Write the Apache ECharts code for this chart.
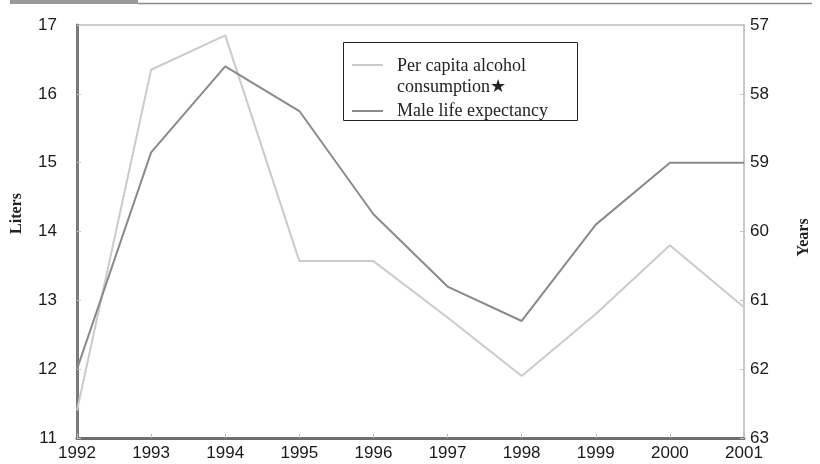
<!DOCTYPE html>
<html>
<head>
<meta charset="utf-8">
<title>Alcohol consumption and male life expectancy</title>
<script src="https://cdn.jsdelivr.net/npm/echarts@6/dist/echarts.min.js"></script>
<style>
  html, body { margin: 0; padding: 0; background: #fff; }
  #chart { width: 820px; height: 464px; }
</style>
</head>
<body>
<div id="chart"></div>
<script>
// data
var years = ['1992', '1993', '1994', '1995', '1996', '1997', '1998', '1999', '2000', '2001'];
var alcohol = [11.4, 16.35, 16.85, 13.57, 13.57, 12.75, 11.9, 12.8, 13.8, 12.9]; // liters, left axis
var lifeExp = [62.0, 58.85, 57.6, 58.25, 59.75, 60.8, 61.3, 59.9, 59.0, 59.0]; // years, right axis (inverted)

var alcName = 'Per capita alcohol consumption';
var lifeName = 'Male life expectancy';

var serif = "'Liberation Serif', 'DejaVu Serif', serif";
var sans = "'Liberation Sans', Arial, sans-serif";

// legend icons: a short line inside a wider invisible box, so it sits where the picture has it
var iconTop = 'path://M0,0H31V2H0Z M40,26L40,26';
var iconMid = 'path://M0,12H31V14H0Z M0,0L0,0 M40,26L40,26';

var chart = echarts.init(document.getElementById('chart'));

var option = {
  animation: false,
  grid: {
    left: 77,
    right: 75,
    top: 25,
    bottom: 26,
    show: true,
    borderColor: '#cdcdcd',
    borderWidth: 2
  },
  legend: {
    left: 343,
    top: 56,
    orient: 'vertical',
    padding: [0, 0, 0, 9],
    itemWidth: 40,
    itemHeight: 26,
    itemGap: 0,
    selectedMode: false,
    data: [
      { name: alcName, icon: iconTop },
      { name: lifeName, icon: iconMid }
    ],
    formatter: function (name) {
      return name === alcName ? 'Per capita alcohol\nconsumption\u2605' : name;
    },
    textStyle: {
      fontFamily: serif,
      fontSize: 18,
      lineHeight: 21,
      color: '#222'
    }
  },
  graphic: [
    // header strip
    { type: 'rect', shape: { x: 10, y: 0, width: 128, height: 4 }, style: { fill: '#9a9a9a' } },
    { type: 'line', shape: { x1: 138, y1: 3.5, x2: 812, y2: 3.5 }, style: { stroke: '#8c8c8c', lineWidth: 1.5 } },
    // legend frame
    { type: 'rect', shape: { x: 343.5, y: 42.5, width: 234, height: 78 }, style: { fill: 'none', stroke: '#222', lineWidth: 1 }, z: 10 }
  ],
  xAxis: {
    type: 'category',
    data: years,
    boundaryGap: false,
    axisLine: { lineStyle: { color: '#6e6e6e', width: 3 } },
    axisTick: { inside: true, length: 4, lineStyle: { color: '#bbb' } },
    axisLabel: { color: '#1a1a1a', fontFamily: sans, fontSize: 17, margin: 7 },
    splitLine: { show: false }
  },
  yAxis: [
    {
      type: 'value',
      name: 'Liters',
      nameLocation: 'middle',
      nameGap: 52,
      // left padding pushes the rotated name up, as in the picture
      nameTextStyle: { fontFamily: serif, fontWeight: 'bold', fontSize: 16, color: '#222', padding: [0, 0, 0, 36] },
      min: 11,
      max: 17,
      interval: 1,
      axisLine: { show: true, lineStyle: { color: '#7a7a7a', width: 3 } },
      axisTick: { show: true, inside: true, length: 4, lineStyle: { color: '#c4c4c4' } },
      axisLabel: { color: '#1a1a1a', fontFamily: sans, fontSize: 17, margin: 20 },
      splitLine: { show: false }
    },
    {
      type: 'value',
      name: 'Years',
      nameLocation: 'middle',
      nameGap: 52,
      nameTextStyle: { fontFamily: serif, fontWeight: 'bold', fontSize: 16, color: '#222', padding: [0, 12, 0, 0] },
      inverse: true,
      min: 57,
      max: 63,
      interval: 1,
      axisLine: { show: true, lineStyle: { color: '#c8c8c8', width: 2 } },
      axisTick: { show: true, inside: true, length: 4, lineStyle: { color: '#c4c4c4' } },
      axisLabel: { color: '#1a1a1a', fontFamily: sans, fontSize: 17, margin: 6 },
      splitLine: { show: false }
    }
  ],
  series: [
    {
      name: alcName,
      type: 'line',
      yAxisIndex: 0,
      data: alcohol,
      showSymbol: false,
      color: '#cbcbcb',
      lineStyle: { color: '#cbcbcb', width: 2 }
    },
    {
      name: lifeName,
      type: 'line',
      yAxisIndex: 1,
      data: lifeExp,
      showSymbol: false,
      color: '#8a8a8a',
      lineStyle: { color: '#8a8a8a', width: 2 }
    }
  ]
};

chart.setOption(option);
</script>
</body>
</html>
